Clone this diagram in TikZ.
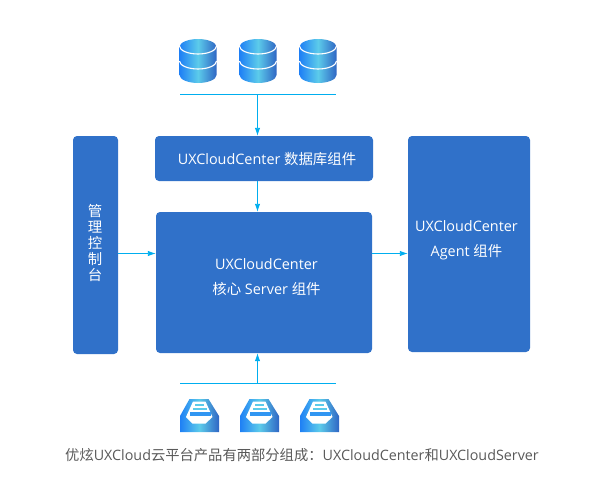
\documentclass[tikz,border=0pt]{standalone}
\usepackage{fontspec}
\setmainfont{Open Sans}
\newfontfamily\cjk{Noto Sans CJK SC}
\usetikzlibrary{arrows.meta,calc,positioning}
\definecolor{BoxBlue}{HTML}{3071C9}
\definecolor{LinkCyan}{HTML}{00AEEF}
\definecolor{IconBlue}{HTML}{1F80F5}
\definecolor{IconCyan}{HTML}{5CCBEA}
\definecolor{IconDark}{HTML}{2F66C4}
\definecolor{CapGray}{HTML}{595959}
\tikzset{
  panel/.style={fill=BoxBlue,rounded corners=4pt,inner sep=0pt},
  paneltext/.style={text=white,font=\fontsize{14.4}{25}\selectfont,align=center,inner sep=0pt},
  link/.style={LinkCyan,line width=0.9pt,-{Latex[length=8pt,width=5.5pt]}},
  bus/.style={LinkCyan,line width=0.9pt},
  iconfill/.style={left color=IconBlue,right color=IconDark,middle color=IconCyan,draw=none},
  dbicon/.pic={
    \path[iconfill] (-18.5,8) arc[start angle=180,end angle=360,x radius=18.5,y radius=8]
      -- (18.5,36) arc[start angle=0,end angle=180,x radius=18.5,y radius=8] -- cycle;
    \draw[white,line width=1.1pt] (-18.5,7) arc[start angle=180,end angle=0,x radius=18.5,y radius=8];
    \draw[white,line width=1.1pt] (-18.5,22) arc[start angle=180,end angle=0,x radius=18.5,y radius=8];
  },
  trayicon/.pic={
    \path[iconfill] (-10,0) -- (9,0) -- (19.5,17) -- (19.5,33) -- (-19.5,33) -- (-19.5,17) -- cycle;
    \fill[white] (-6.5,2.5) -- (6,2.5) -- (13,18) -- (6,24.5) -- (-7,24.5) -- (-13.5,18) -- cycle;
    \fill[IconCyan] (-4.5,4.5) rectangle (4.5,6.5);
    \fill[IconCyan] (-7,8.5) rectangle (7,10.5);
    \fill[IconBlue!70!IconCyan] (-10,12.5) rectangle (11,17);
  }
}
\begin{document}
\begin{tikzpicture}[x=1pt,y=-1pt]
  \useasboundingbox (0,0) rectangle (595,498);

  % panels
  \node[panel,minimum width=45pt,minimum height=218pt] (console) at (95.5,245) {};
  \node[panel,minimum width=218pt,minimum height=45pt] (dbpanel) at (264,158.5) {};
  \node[panel,minimum width=216pt,minimum height=141pt] (core) at (264,282.5) {};
  \node[panel,minimum width=122pt,minimum height=216pt] (agent) at (469,244) {};

  \node[paneltext,font=\fontsize{14.4}{15.8}\selectfont\cjk] (consoletext) at (95,243)
    {管\\理\\控\\制\\台};
  \node[paneltext] (dbtext) at (267,159) {UXCloudCenter {\cjk 数据库组件}};
  \node[paneltext] (coretext) at (266.5,277) {UXCloudCenter\\{\cjk 核心} Server {\cjk 组件}};
  \node[paneltext] (agenttext) at (466.5,240) {UXCloudCenter\\Agent {\cjk 组件}};

  % icons
  \foreach \x in {198,258,318}
    \pic at (\x,39) {dbicon};
  \foreach \x in {199.5,259.5,319.5}
    \pic at (\x,399) {trayicon};

  % connectors
  \coordinate (topleft) at (180,94.5);
  \coordinate (topright) at (336,94.5);
  \coordinate (topmid) at (257.5,94.5);
  \coordinate (botleft) at (180,383.5);
  \coordinate (botright) at (336,383.5);
  \coordinate (botmid) at (257.5,383.5);
  \draw[bus] (topleft) -- (topright);
  \draw[bus] (botleft) -- (botright);
  \draw[link] (topmid) -- (topmid |- dbpanel.north);
  \draw[link] (botmid) -- (botmid |- core.south);
  \draw[link] (dbpanel.south -| topmid) -- (core.north -| topmid);
  \draw[link] (console.east |- 0,253.5) -- (core.west |- 0,253.5);
  \draw[link] (core.east |- 0,253.5) -- (agent.west |- 0,253.5);

  \node[text=CapGray,font=\fontsize{14.3}{16}\selectfont,inner sep=0pt] (caption) at (302,455.5)
    {{\cjk 优炫}UXCloud{\cjk 云平台产品有两部分组成：}UXCloudCenter{\cjk 和}UXCloudServer};
\end{tikzpicture}
\end{document}
